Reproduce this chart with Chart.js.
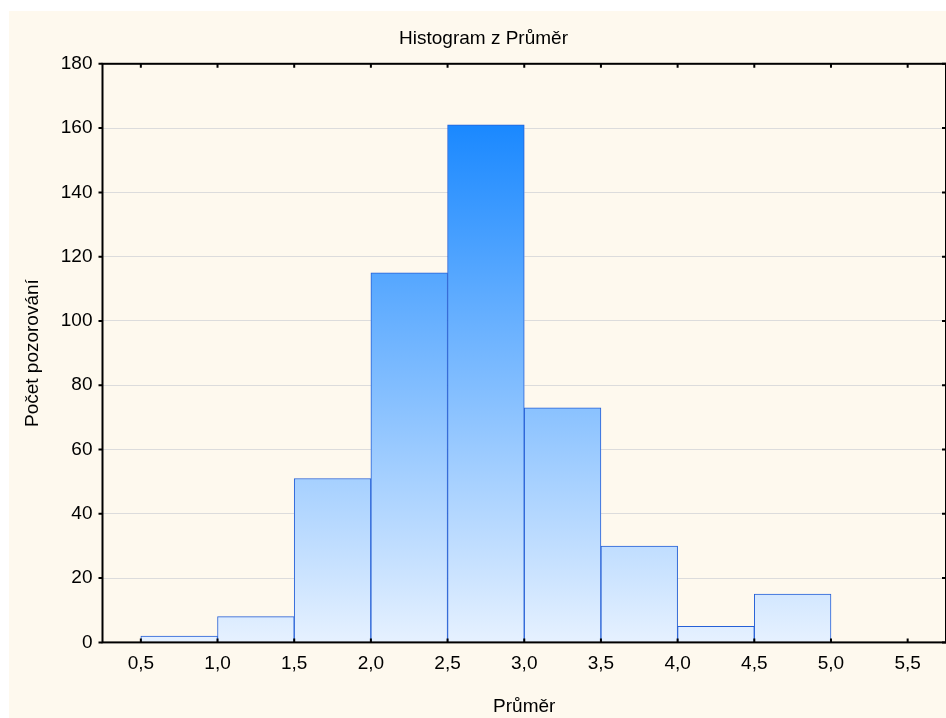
<!DOCTYPE html>
<html>
<head>
<meta charset="utf-8">
<script src="https://cdn.jsdelivr.net/npm/chart.js@4.4.1/dist/chart.umd.min.js"></script>
<style>
  html, body { margin: 0; padding: 0; background: #ffffff; }
  #wrap { position: absolute; left: 9px; top: 11px; width: 937px; height: 707px; background: #fef9ee; }
</style>
</head>
<body>
<div id="wrap"><canvas id="histChart"></canvas></div>
<script>
// bin edges (start of each bin) and counts
const binStarts = [0.5, 1.0, 1.5, 2.0, 2.5, 3.0, 3.5, 4.0, 4.5, 5.0];
const binWidth = 0.5;
const counts = [2, 8, 51, 115, 161, 73, 30, 5, 15, 0];
const xTicks = [0.5, 1.0, 1.5, 2.0, 2.5, 3.0, 3.5, 4.0, 4.5, 5.0, 5.5];
const yTicks = [0, 20, 40, 60, 80, 100, 120, 140, 160, 180];

const FONT = "'Liberation Sans', Arial, sans-serif";
const fmt = v => v.toFixed(1).replace('.', ',');

// frame around the plot with short ticks, like the original
const framePlugin = {
    id: 'frame',
    afterDatasetsDraw(chart) {
        const {ctx, chartArea: a, scales} = chart;
        ctx.save();
        ctx.strokeStyle = '#000';
        ctx.lineWidth = 2;
        ctx.strokeRect(a.left, a.top, a.right - a.left, a.bottom - a.top);
        ctx.beginPath();
        xTicks.forEach(v => {
            const px = scales.x.getPixelForValue(v);
            ctx.moveTo(px, a.bottom); ctx.lineTo(px, a.bottom - 4);
            ctx.moveTo(px, a.top); ctx.lineTo(px, a.top + 4);
        });
        yTicks.forEach(v => {
            const py = scales.y.getPixelForValue(v);
            ctx.moveTo(a.left, py); ctx.lineTo(a.left - 4, py);
            ctx.moveTo(a.right, py); ctx.lineTo(a.right - 4, py);
        });
        ctx.stroke();
        ctx.restore();
    }
};

const ctx = document.getElementById('histChart').getContext('2d');
new Chart(ctx, {
    type: 'bar',
    data: {
        datasets: [{
            label: 'Průměr',
            data: binStarts.map((s, i) => ({x: s + binWidth / 2, y: counts[i]})),
            backgroundColor: (c) => {
                const area = c.chart.chartArea;
                if (!area) return '#8fc4ff';
                const g = c.chart.ctx.createLinearGradient(0, area.top, 0, area.bottom);
                g.addColorStop(0, 'rgb(2,124,255)');
                g.addColorStop(1, 'rgb(230,241,255)');
                return g;
            },
            borderColor: 'rgb(38,96,214)',
            borderWidth: 1,
            borderSkipped: 'bottom',
            barPercentage: 1.0,
            categoryPercentage: 1.0
        }]
    },
    options: {
        responsive: true,
        maintainAspectRatio: false,
        animation: false,
        layout: {padding: {left: 12, right: 0, top: 0, bottom: 0}},
        plugins: {
            legend: {display: false},
            tooltip: {enabled: false},
            title: {
                display: true,
                text: 'Histogram z Průměr',
                color: '#000',
                font: {family: FONT, size: 19, weight: 'normal'},
                padding: {top: 16, bottom: 14}
            }
        },
        scales: {
            x: {
                type: 'linear',
                offset: false,
                min: 0.25,
                max: 5.75,
                afterBuildTicks: (scale) => { scale.ticks = xTicks.map(v => ({value: v})); },
                grid: {display: false, drawTicks: false, offset: false},
                border: {display: false},
                ticks: {
                    color: '#000',
                    font: {family: FONT, size: 19},
                    padding: 10,
                    maxRotation: 0,
                    autoSkip: false,
                    callback: v => fmt(v)
                },
                title: {
                    display: true,
                    text: 'Průměr',
                    color: '#000',
                    font: {family: FONT, size: 19},
                    padding: {top: 10, bottom: 0}
                }
            },
            y: {
                min: 0,
                max: 180,
                afterBuildTicks: (scale) => { scale.ticks = yTicks.map(v => ({value: v})); },
                grid: {color: '#dcdcdc', lineWidth: 1, drawTicks: true, tickLength: 5, tickColor: 'rgba(0,0,0,0)'},
                border: {display: false},
                ticks: {
                    color: '#000',
                    font: {family: FONT, size: 19},
                    padding: 5
                },
                title: {
                    display: true,
                    text: 'Počet pozorování',
                    color: '#000',
                    font: {family: FONT, size: 19},
                    padding: {top: 0, bottom: 12}
                }
            }
        }
    },
    plugins: [framePlugin]
});
</script>
</body>
</html>
